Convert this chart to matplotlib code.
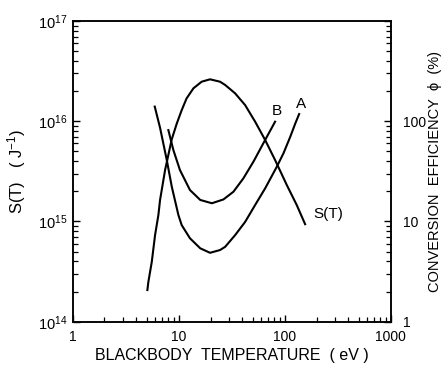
import numpy as np
import matplotlib
matplotlib.use("Agg")
from matplotlib import pyplot as plt
from matplotlib.ticker import LogLocator, FixedLocator, FixedFormatter, NullFormatter

plt.rcParams['font.family'] = ['Liberation Sans', 'DejaVu Sans']
plt.rcParams['mathtext.fontset'] = 'custom'
plt.rcParams['mathtext.rm'] = 'Liberation Sans'
plt.rcParams['mathtext.it'] = 'Liberation Sans:italic'

# S(T) in J^-1 against blackbody temperature (eV), left axis
st_temp = [5.08, 5.19, 5.59, 6.0, 6.45, 6.69, 7.46, 8.62, 9.62, 10.7, 11.9, 13.8,
           16.5, 19.8, 24.6, 27.5, 34.1, 42.4, 52.7, 65.5, 81.3, 105, 130, 156]
st_vals = [2.07e14, 2.5e14, 3.96e14, 7.3e14, 1.16e15, 1.64e15, 3.26e15, 6.6e15,
           9.5e15, 1.29e16, 1.69e16, 2.13e16, 2.48e16, 2.62e16, 2.48e16, 2.3e16,
           1.9e16, 1.45e16, 9.9e15, 6.5e15, 4.1e15, 2.3e15, 1.46e15, 9.4e14]

# conversion efficiency (%) for curve A, right axis
a_temp = [5.96, 6.69, 7.74, 8.63, 9.96, 10.7, 12.8, 16.0, 19.8, 24.6, 27.5,
          34.1, 42.4, 52.7, 65.5, 84.4, 97.5, 113, 126, 137]
a_vals = [140, 86, 41, 22.2, 11.6, 9.2, 6.8, 5.4, 4.87, 5.19, 5.59,
          7.3, 9.9, 14.6, 21.4, 35.2, 47.9, 70, 95, 118]

# conversion efficiency (%) for curve B, right axis
b_temp = [8.01, 8.93, 10.3, 12.8, 16.0, 20.6, 26.5, 32.9, 40.8, 50.8, 64.1, 81.3]
b_vals = [81.6, 51.6, 32.6, 20.6, 16.4, 15.2, 16.6, 19.8, 26.9, 39.5, 62.4, 99]

fig = plt.figure(figsize=(4.46, 3.66), dpi=100)
ax = fig.add_axes([0.1626, 0.121, 0.7134, 0.8216])
ax2 = ax.twinx()

ax.plot(st_temp, st_vals, color='black', lw=1.5)
ax2.plot(a_temp, a_vals, color='black', lw=1.5)
ax2.plot(b_temp, b_vals, color='black', lw=1.5)

ax.set_xscale('log')
ax.set_yscale('log')
ax2.set_yscale('log')
ax.set_xlim(1, 1000)
ax.set_ylim(1e14, 1e17)
ax2.set_ylim(1, 1000)

for a in (ax, ax2):
    for s in a.spines.values():
        s.set_linewidth(1.1)

ax.tick_params(which='both', direction='in', top=False, right=False)
ax.tick_params(which='major', length=5, width=1)
ax.tick_params(which='minor', length=3.5, width=0.9)
ax.tick_params(axis='x', pad=6, labelsize=10)
ax.tick_params(axis='y', pad=4, labelsize=10.5)
ax.xaxis.set_major_locator(FixedLocator([1, 10, 100, 1000]))
ax.xaxis.set_major_formatter(FixedFormatter(['1', '10', '100', '1000']))
ax.xaxis.set_minor_locator(LogLocator(base=10, subs=np.arange(2, 10)))
ax.xaxis.set_minor_formatter(NullFormatter())
ax.yaxis.set_major_locator(FixedLocator([1e14, 1e15, 1e16, 1e17]))
ax.yaxis.set_major_formatter(FixedFormatter(['$10^{14}$', '$10^{15}$', '$10^{16}$', '$10^{17}$']))
ax.yaxis.set_minor_locator(LogLocator(base=10, subs=np.arange(2, 10)))
ax.yaxis.set_minor_formatter(NullFormatter())

ax2.tick_params(which='both', direction='in', labelsize=10, pad=9)
ax2.tick_params(which='major', length=5, width=1)
ax2.tick_params(which='minor', length=3.5, width=0.9)
ax2.yaxis.set_major_locator(FixedLocator([1, 10, 100, 1000]))
ax2.yaxis.set_major_formatter(FixedFormatter(['1', '10', '100', '']))
ax2.yaxis.set_minor_locator(LogLocator(base=10, subs=np.arange(2, 10)))
ax2.yaxis.set_minor_formatter(NullFormatter())

ax.set_xlabel('BLACKBODY  TEMPERATURE  ( eV )', fontsize=11.5, labelpad=3)
ax.set_ylabel('S(T)   ( J$^{-1}$)', fontsize=12, labelpad=7)
ax2.set_ylabel('CONVERSION  EFFICIENCY  ϕ  (%)', fontsize=10.5, labelpad=1)

ax2.text(85, 126, 'B', fontsize=11, ha='center', va='center')
ax2.text(143, 149, 'A', fontsize=11, ha='center', va='center')
ax.text(186, 1.19e15, 'S(T)', fontsize=11, ha='left', va='center')

fig.savefig('out.png', dpi=100)
